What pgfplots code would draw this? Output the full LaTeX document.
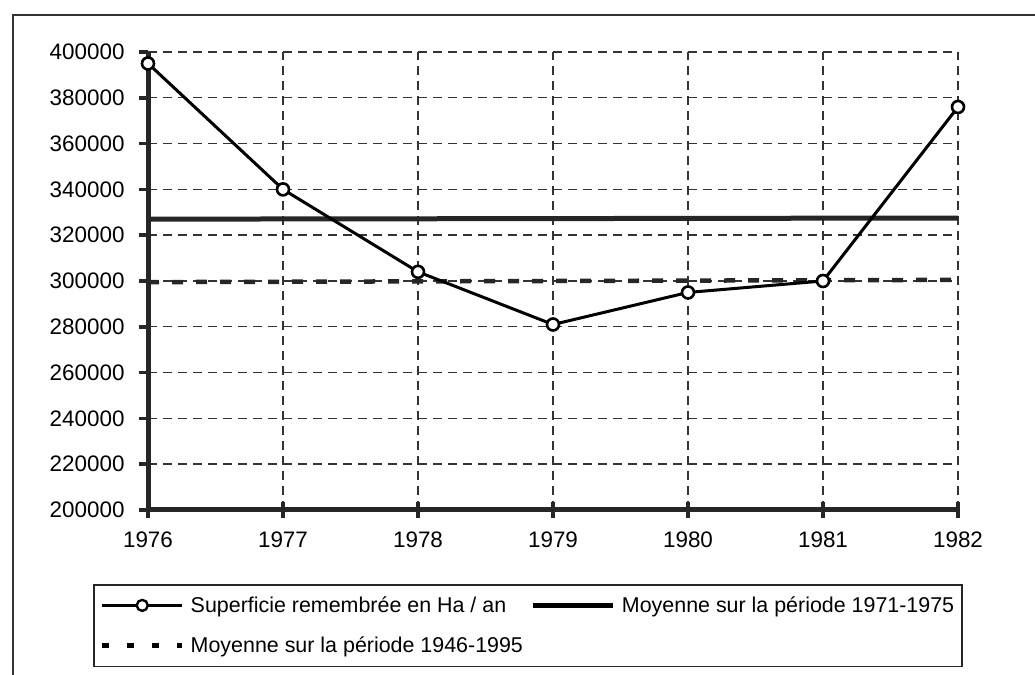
\documentclass[border=0pt]{standalone}
\usepackage{fontspec}
\setmainfont{Liberation Sans}
\usepackage{pgfplots}
\pgfplotsset{compat=1.18}
\begin{document}
\begin{tikzpicture}[x=1bp,y=1bp]
\useasboundingbox (0,0) rectangle (1035,675);
\draw[line width=1.6bp, black!80] (13,0) -- (13,660) -- (1035,660);
\begin{axis}[
  at={(148bp,165bp)}, anchor=south west,
  scale only axis, width=810bp, height=458bp,
  xmin=1976, xmax=1982, ymin=200000, ymax=400000,
  xtick={1976,1977,1978,1979,1980,1981,1982},
  xticklabels={1976,1977,1978,1979,1980,1981,1982},
  ytick={200000,220000,240000,260000,280000,300000,320000,340000,360000,380000,400000},
  yticklabels={200000,220000,240000,260000,280000,300000,320000,340000,360000,380000,400000},
  scaled y ticks=false,
  clip=false,
  axis lines=left,
  axis line style={line width=5bp, -, black!85},
  grid=major,
  major grid style={black!80, line width=1.4bp, dash pattern=on 9bp off 6bp},
  tick style={black!85, line width=3.5bp},
  major tick length=9bp,
  ytick align=outside,
  xtick align=center,
  xtick style={/pgfplots/major tick length=16bp},
  tick label style={font=\fontsize{22.5}{27}\selectfont},
  xticklabel style={yshift=-14bp},
  yticklabel style={xshift=-11bp},
  legend columns=2,
  legend cell align=left,
  legend style={at={(-0.0679,-0.1616)}, anchor=north west, draw=black!85, line width=1.5bp,
    font=\fontsize{21.5}{26}\selectfont, inner xsep=6bp, inner ysep=10bp, row sep=19bp,
    /tikz/every even column/.append style={column sep=6bp},
    /tikz/every odd column/.append style={column sep=4bp}},
  legend image code/.code={\draw[mark repeat=2, mark phase=2, #1] plot coordinates {(0bp,0bp) (40bp,0bp) (80bp,0bp)};},
]
\addlegendimage{black, line width=2.4bp, mark=*, mark size=5.5bp, mark options={fill=white, line width=2.4bp, solid}}
\addlegendentry{Superficie remembrée en Ha / an}
\addlegendimage{black, line width=5bp}
\addlegendentry{Moyenne sur la période 1971-1975}
\addlegendimage{black, line width=5bp, dash pattern=on 7bp off 18bp}
\addlegendentry{Moyenne sur la période 1946-1995}

\addplot[black!85, line width=5bp, forget plot] coordinates {(1976,327000) (1982,327500)};
\addplot[black!85, line width=4.5bp, dash pattern=on 11bp off 13bp, forget plot] coordinates {(1976,299500) (1982,300500)};
\addplot[black, line width=3bp, mark=*, mark size=6bp, mark options={fill=white, line width=2.6bp, solid}, forget plot]
  coordinates {(1976,395000) (1977,340000) (1978,304000) (1979,281000) (1980,295000) (1981,300000) (1982,376000)};
\end{axis}
\end{tikzpicture}
\end{document}
